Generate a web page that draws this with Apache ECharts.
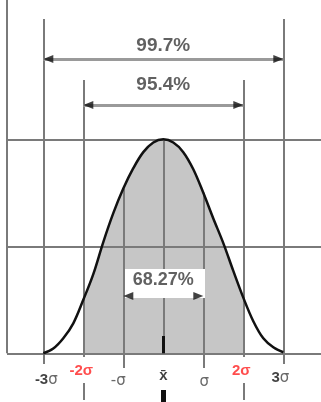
<!DOCTYPE html>
<html><head><meta charset="utf-8">
<script src="https://cdn.jsdelivr.net/npm/echarts@6/dist/echarts.min.js"></script>
<style>html,body{margin:0;padding:0;background:#fff}#c{width:321px;height:402px}</style>
</head><body><div id="c"></div>
<script>
// ---- data ----
const curveX = [-3,-2.75,-2.5,-2.25,-2,-1.75,-1.5,-1.25,-1,-0.75,-0.5,-0.25,0,0.25,0.5,0.75,1,1.25,1.5,1.75,2,2.25,2.5,2.75,3];
const curveY = [0.0,0.022,0.07,0.14,0.25,0.37,0.52,0.655,0.77,0.865,0.94,0.985,1.0,0.985,0.94,0.86,0.75,0.63,0.515,0.385,0.26,0.15,0.07,0.028,0.005];
const sigmaTicks = [-3,-2,-1,0,1,2,3];
const tickLabels = ['-3σ','-2σ','-σ','x̄','σ','2σ','3σ'];
const spanHalfWidths = [3,2,1];
const spanLabels = ['99.7%','95.4%','68.27%'];
const gridLevels = [0,0.5,1.0];
const shadedHalfWidth = 2;

// ---- layout helpers (pixel -> data, 40px per sigma, 214px per unit height) ----
const PX_X = 40, PX_Y = 214, X0 = 163.3, Y0 = 353.3;
const vy = px => (Y0 - px) / PX_Y;
const vx = px => (px - X0) / PX_X;
const GRAY = '#7a7a7a';

const pts = curveX.map((x,i)=>[x,curveY[i]]);
const fillPts = pts.filter(p=>Math.abs(p[0])<=shadedHalfWidth);
const curveAt = x => curveY[curveX.indexOf(x)];

const lines = [];
const L = (x1,y1,x2,y2,style) => lines.push({coords:[[x1,y1],[x2,y2]], lineStyle:Object.assign({color:GRAY,width:2,opacity:1},style||{})});
const leftX = vx(7);
L(leftX, vy(0), leftX, 0);
gridLevels.forEach(g=>L(leftX, g, vx(321), g));
const spanY = [vy(59), vy(105), vy(296)];
const lineTop = {3: vy(19), 2: vy(80)};
sigmaTicks.forEach(s=>{
  const a = Math.abs(s);
  if (a===3) L(s, lineTop[3], s, vy(364));
  else if (a===2) { L(s, lineTop[2], s, vy(357)); L(s, vy(383), s, vy(400)); }
  else if (a===1) L(s, curveAt(s), s, vy(368));
  else { L(s, curveAt(s), s, vy(336)); L(s, vy(336), s, 0, {color:'#111',width:3}); L(s, vy(390), s, vy(402), {color:'#111',width:5}); }
});
[0,1].forEach(i=>{const h=spanHalfWidths[i]; L(-h, spanY[i], h, spanY[i], {color:'#9a9a9a', width:3});});

// white label box behind 68.27%
const boxLines = [{coords:[[vx(125), vy(283.5)],[vx(205), vy(283.5)]], lineStyle:{color:'#ffffff', width:29, opacity:1, cap:'butt'}}];

const heads = [];
spanHalfWidths.forEach((h,i)=>{
  heads.push({value:[-h + 5/PX_X, spanY[i]], symbolRotate:90});
  heads.push({value:[h - 5/PX_X, spanY[i]], symbolRotate:-90});
});

const isRed = [false,true,false,false,false,true,false];
const labelDy = [27,18,28,23,29,18,25];
const labelDx = [3,-2,-5,0,1,-2,-3];
const fmt = (t,i) => {
  if (isRed[i]) return '{r|'+t+'}';
  const k = t.indexOf('σ');
  if (k<0) return '{b|'+t+'}';
  const pre = t.slice(0,k);
  return (pre && pre!=='-' ? '{b|'+pre+'}' : (pre ? '{s|'+pre+'}' : '')) + '{s|σ}';
};
const tickData = sigmaTicks.map((s,i)=>({
  value:[s,0],
  label:{show:true, formatter:fmt(tickLabels[i],i), offset:[labelDx[i], labelDy[i]], position:'inside'}
}));
const spanTextDy = [-13.5,-20,-15.5];
const spanData = spanLabels.map((t,i)=>({value:[0, spanY[i]], label:{show:true, formatter:t, offset:[0, spanTextDy[i]], position:'inside', fontSize: i<2?19:18}}));

const chart = echarts.init(document.getElementById('c'), null, {renderer:'canvas'});
chart.setOption({
  animation:false,
  backgroundColor:'#fff',
  grid:{left:0,right:0,top:0,bottom:0},
  xAxis:{type:'value', min:vx(0), max:vx(321), show:false},
  yAxis:{type:'value', min:vy(402), max:vy(0), show:false},
  series:[
    {type:'line', data:fillPts, smooth:0.35, symbol:'none', lineStyle:{width:0}, areaStyle:{color:'#c6c6c6', opacity:1}, z:1, silent:true},
    {type:'lines', coordinateSystem:'cartesian2d', polyline:false, data:lines, z:2, silent:true},
    {type:'lines', coordinateSystem:'cartesian2d', polyline:false, data:boxLines, z:3, silent:true},
    {type:'line', data:pts, smooth:0.35, symbol:'none', lineStyle:{color:'#111', width:2.5}, z:4, silent:true},
    {type:'scatter', data:heads, symbol:'triangle', symbolSize:[8,10], itemStyle:{color:'#111'}, z:5, silent:true},
    {type:'scatter', data:spanData, symbolSize:0, z:6, silent:true,
      label:{color:'#3a3a3a', fontFamily:'Liberation Sans, Arial, sans-serif', fontWeight:'bold'}},
    {type:'scatter', data:tickData, symbolSize:0, z:6, silent:true,
      label:{fontFamily:'Liberation Sans, Arial, sans-serif',
        rich:{
          b:{fontSize:15, fontWeight:'bold', color:'#111', fontFamily:'Liberation Sans, Arial, sans-serif'},
          s:{fontSize:15, color:'#444', fontFamily:'DejaVu Sans, sans-serif'},
          r:{fontSize:15, fontWeight:'bold', color:'#ff2020', fontFamily:'Liberation Sans, Arial, sans-serif'}
        }}}
  ]
});
</script></body></html>
